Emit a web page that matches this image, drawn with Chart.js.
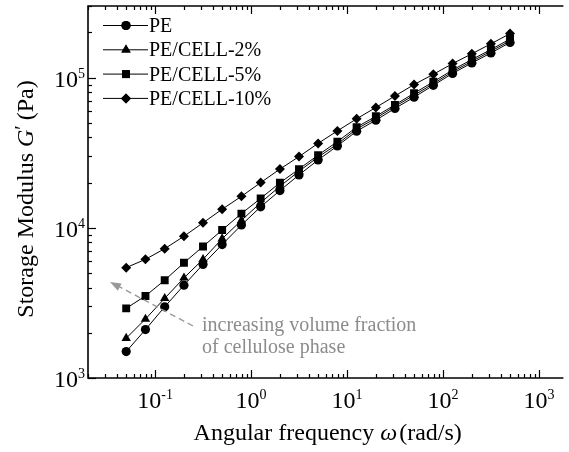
<!DOCTYPE html>
<html>
<head>
<meta charset="utf-8">
<script src="https://cdn.jsdelivr.net/npm/chart.js@4/dist/chart.umd.min.js"></script>
<style>
  body { margin: 0; background: #fff; }
  canvas { display: block; }
</style>
</head>
<body>
<canvas id="chart" width="569" height="452"></canvas>
<script>
// angular frequency (rad/s), 5 points per decade
const freq = [0.05, 0.0794, 0.126, 0.2, 0.316, 0.5, 0.794, 1.26, 2, 3.16, 5, 7.94, 12.6, 20, 31.6, 50, 79.4, 126, 200, 316, 500];

// storage modulus G' (Pa)
const pe = [1500, 2100, 2980, 4150, 5710, 7740, 10440, 13800, 17700, 22500, 28300, 35100, 44000, 52100, 62400, 74100, 88900, 106700, 125300, 145900, 171400];
const cell2 = [1840, 2470, 3390, 4640, 6170, 8460, 11200, 14700, 18900, 23800, 29600, 36100, 45500, 53700, 64300, 76400, 91200, 109600, 128500, 149900, 175800];
const cell5 = [2910, 3520, 4480, 5850, 7510, 9670, 12440, 15700, 19950, 24600, 30500, 37500, 46800, 55300, 65900, 78700, 93800, 112500, 132000, 153800, 180700];
const cell10 = [5430, 6170, 7260, 8790, 10800, 13300, 16200, 20000, 24600, 29800, 36500, 44200, 53200, 63300, 75500, 89900, 105300, 124000, 144200, 167900, 196500];

const seriesNames = ['PE', 'PE/CELL-2%', 'PE/CELL-5%', 'PE/CELL-10%'];
const seriesMarks = ['circle', 'triangle', 'rect', 'rectRot'];
const seriesRadius = [4.6, 5.4, 5.6, 5];

const xTickExps = [-1, 0, 1, 2, 3];
const yTickExps = [3, 4, 5];

const serif = '"Liberation Serif", "Times New Roman", serif';

function makeSet(label, values, i) {
    return {
        label: label,
        data: values.map((v, k) => ({ x: freq[k], y: v })),
        borderColor: '#000',
        borderWidth: 1,
        backgroundColor: '#000',
        pointStyle: seriesMarks[i],
        pointRadius: seriesRadius[i],
        pointBorderWidth: 0,
        pointBackgroundColor: '#000',
        tension: 0,
        fill: false
    };
}

function minorTicks(min, max) {
    let out = [];
    for (let e = Math.floor(Math.log10(min)); e <= Math.ceil(Math.log10(max)); e++) {
        for (let m = 1; m <= 9; m++) {
            let v = m * Math.pow(10, e);
            if (v >= min * 0.999 && v <= max * 1.001) out.push({ v: v, major: m === 1 });
        }
    }
    return out;
}

function drawPow(ctx, e, x, y, align) {
    ctx.font = '24px ' + serif;
    let wb = ctx.measureText('10').width;
    ctx.font = '14px ' + serif;
    let sup = String(e);
    let ws = ctx.measureText(sup).width;
    let left = align === 'center' ? x - (wb + ws) / 2 : x - wb - ws;
    ctx.textAlign = 'left';
    ctx.textBaseline = 'alphabetic';
    ctx.font = '24px ' + serif;
    ctx.fillText('10', left, y);
    ctx.font = '14px ' + serif;
    ctx.fillText(sup, left + wb, y - 9);
}

function drawPieces(ctx, pieces, x, y) {
    let total = 0;
    pieces.forEach(p => { ctx.font = p.font; total += ctx.measureText(p.text).width + (p.gap || 0); });
    let cx = x - total / 2;
    pieces.forEach(p => {
        ctx.font = p.font;
        ctx.fillText(p.text, cx, y + (p.dy || 0));
        cx += ctx.measureText(p.text).width + (p.gap || 0);
    });
}

const axesPlugin = {
    id: 'axesPlugin',
    afterDatasetsDraw(chart) {
        const ctx = chart.ctx;
        const xs = chart.scales.x, ys = chart.scales.y;
        const a = chart.chartArea;
        ctx.save();
        ctx.strokeStyle = '#000';
        ctx.fillStyle = '#000';

        // frame: left, bottom, top
        ctx.lineWidth = 1.6;
        ctx.beginPath();
        ctx.moveTo(a.right, a.top);
        ctx.lineTo(a.left, a.top);
        ctx.lineTo(a.left, a.bottom);
        ctx.lineTo(a.right, a.bottom);
        ctx.stroke();

        // ticks pointing inwards
        ctx.lineWidth = 1.2;
        minorTicks(xs.min, xs.max).forEach(t => {
            let px = Math.round(xs.getPixelForValue(t.v)) + 0.5;
            let len = t.major ? 8 : 4;
            ctx.beginPath();
            ctx.moveTo(px, a.bottom); ctx.lineTo(px, a.bottom - len);
            ctx.moveTo(px, a.top); ctx.lineTo(px, a.top + len);
            ctx.stroke();
        });
        minorTicks(ys.min, ys.max).forEach(t => {
            let py = Math.round(ys.getPixelForValue(t.v)) + 0.5;
            let len = t.major ? 8 : 4;
            ctx.beginPath();
            ctx.moveTo(a.left, py); ctx.lineTo(a.left + len, py);
            ctx.stroke();
        });

        // tick labels
        xTickExps.forEach(e => drawPow(ctx, e, xs.getPixelForValue(Math.pow(10, e)), a.bottom + 30, 'center'));
        yTickExps.forEach(e => drawPow(ctx, e, a.left - 3, ys.getPixelForValue(Math.pow(10, e)) + 9, 'right'));

        // axis titles
        ctx.textAlign = 'left';
        ctx.textBaseline = 'alphabetic';
        drawPieces(ctx, [
            { text: 'Angular frequency ', font: '24px ' + serif },
            { text: 'ω', font: 'italic 24px ' + serif, gap: 2 },
            { text: '(rad/s)', font: '24px ' + serif }
        ], (a.left + a.right) / 2 + 2, 440);

        ctx.save();
        ctx.translate(33, 199);
        ctx.rotate(-Math.PI / 2);
        drawPieces(ctx, [
            { text: 'Storage Modulus ', font: '24px ' + serif },
            { text: 'G', font: 'italic 24px ' + serif },
            { text: '\u2032', font: '20px ' + serif, dy: -4, gap: 5 },
            { text: '(Pa)', font: '24px ' + serif }
        ], 0, 0);
        ctx.restore();

        // annotation arrow and text
        ctx.strokeStyle = '#999';
        ctx.fillStyle = '#999';
        ctx.lineWidth = 1.4;
        ctx.setLineDash([6, 4]);
        ctx.beginPath();
        ctx.moveTo(193, 326);
        ctx.lineTo(118, 286);
        ctx.stroke();
        ctx.setLineDash([]);
        let ang = Math.atan2(326 - 282, 193 - 110);
        ctx.beginPath();
        ctx.moveTo(110, 282);
        ctx.lineTo(110 + 11 * Math.cos(ang) - 4 * Math.sin(ang), 282 + 11 * Math.sin(ang) + 4 * Math.cos(ang));
        ctx.lineTo(110 + 11 * Math.cos(ang) + 4 * Math.sin(ang), 282 + 11 * Math.sin(ang) - 4 * Math.cos(ang));
        ctx.closePath();
        ctx.fill();
        ctx.fillStyle = '#8c8c8c';
        ctx.font = '20px ' + serif;
        ctx.fillText('increasing volume fraction', 202, 331);
        ctx.fillText('of cellulose phase', 202, 353);

        // legend
        ctx.strokeStyle = '#000';
        ctx.fillStyle = '#000';
        seriesNames.forEach((name, i) => {
            let y = 25.5 + i * 24.3;
            ctx.lineWidth = 1;
            ctx.beginPath();
            ctx.moveTo(103, y); ctx.lineTo(148, y);
            ctx.stroke();
            Chart.helpers.drawPoint(ctx, { pointStyle: seriesMarks[i], radius: seriesRadius[i], borderWidth: 0 }, 126, y);
            ctx.fill();
            ctx.font = '20px ' + serif;
            ctx.fillText(name, 149, y + 6.5);
        });
        ctx.restore();
    }
};

new Chart(document.getElementById('chart'), {
    type: 'line',
    data: {
        datasets: [
            makeSet(seriesNames[0], pe, 0),
            makeSet(seriesNames[1], cell2, 1),
            makeSet(seriesNames[2], cell5, 2),
            makeSet(seriesNames[3], cell10, 3)
        ]
    },
    options: {
        responsive: false,
        animation: false,
        devicePixelRatio: 1,
        layout: { padding: { left: 88, top: 6, right: 0, bottom: 74 } },
        plugins: { legend: { display: false }, tooltip: { enabled: false } },
        scales: {
            x: { type: 'logarithmic', min: 0.02, max: 1800, display: false },
            y: { type: 'logarithmic', min: 1000, max: 300000, display: false }
        }
    },
    plugins: [axesPlugin]
});
</script>
</body>
</html>
